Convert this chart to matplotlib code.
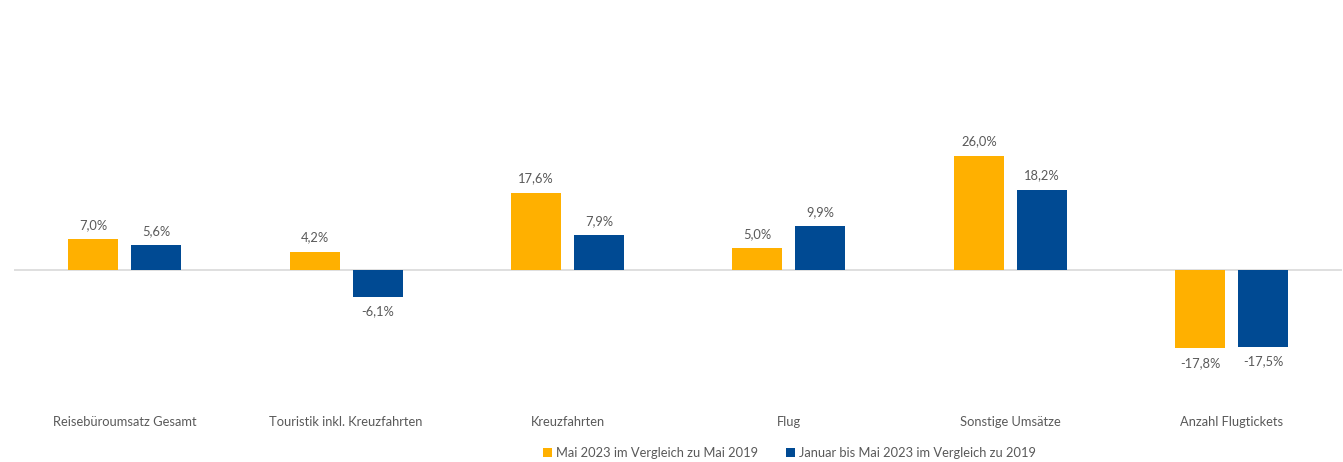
import numpy as np
import matplotlib
matplotlib.use("Agg")
from matplotlib import pyplot as plt

categories = ["Reisebüroumsatz Gesamt", "Touristik inkl. Kreuzfahrten", "Kreuzfahrten",
              "Flug", "Sonstige Umsätze", "Anzahl Flugtickets"]
mai_2023 = [7.0, 4.2, 17.6, 5.0, 26.0, -17.8]
jan_mai_2023 = [5.6, -6.1, 7.9, 9.9, 18.2, -17.5]
series_names = ["Mai 2023 im Vergleich zu Mai 2019",
                "Januar bis Mai 2023 im Vergleich zu 2019"]

plt.rcParams['font.family'] = ['Lato', 'DejaVu Sans']
grey = "#595959"
colors = ["#FFB000", "#004A93"]
fs = 9.3

fig = plt.figure(figsize=(13.43, 4.62), dpi=100)
ax = fig.add_axes([0.0105, 0.145, 0.989, 0.725])

x = np.arange(len(categories))
w = 0.226
off = 0.142
for vals, dx, c, name in [(mai_2023, -off, colors[0], series_names[0]),
                          (jan_mai_2023, off, colors[1], series_names[1])]:
    bars = ax.bar(x + dx, vals, w, color=c, label=name, zorder=3)
    for b, v in zip(bars, vals):
        lbl = f"{v:.1f}%".replace(".", ",")
        if v >= 0:
            ax.annotate(lbl, (b.get_x() + w / 2, v), xytext=(0, 6), textcoords="offset points",
                        ha="center", va="bottom", fontsize=fs, color=grey)
        else:
            ax.annotate(lbl, (b.get_x() + w / 2, v), xytext=(0, -6), textcoords="offset points",
                        ha="center", va="top", fontsize=fs, color=grey)

ax.axhline(0, color="#d9d9d9", lw=1.2, zorder=2)
ax.set_xlim(-0.5, len(categories) - 0.5)
ax.set_ylim(-28.4, 47.7)
ax.set_xticks(x)
ax.set_xticklabels(categories, fontsize=fs, color=grey)
ax.tick_params(axis="x", length=0, pad=15)
ax.set_yticks([])
for s in ax.spines.values():
    s.set_visible(False)

fig.legend(loc="center", bbox_to_anchor=(0.588, 0.02), ncol=2, frameon=False,
           fontsize=fs, labelcolor=grey, handlelength=0.7, handleheight=0.7,
           handletextpad=0.3, columnspacing=2.2)

fig.savefig("out.png", dpi=100)
